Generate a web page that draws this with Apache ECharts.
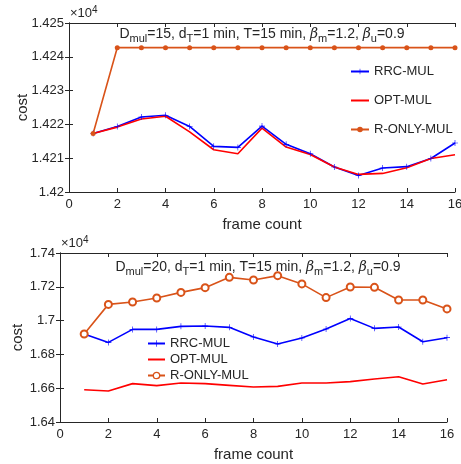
<!DOCTYPE html>
<html><head><meta charset="utf-8">
<script src="https://cdn.jsdelivr.net/npm/echarts@6/dist/echarts.min.js"></script>
<style>html,body{margin:0;padding:0;background:#fff}#c{width:461px;height:464px}</style>
</head><body><div id="c"></div>
<script>
var frames = [1,2,3,4,5,6,7,8,9,10,11,12,13,14,15,16];
var topRRC  = [14217.3,14219.4,14222.2,14222.7,14219.4,14213.5,14213.2,14219.5,14214.1,14211.3,14207.4,14204.9,14207.1,14207.5,14209.9,14214.5];
var topOPT  = [14217.3,14219.2,14221.6,14222.4,14217.8,14212.5,14211.3,14218.9,14213.3,14211.1,14207.4,14205.2,14205.5,14207.2,14209.9,14211.0];
var topRONLY= [14217.3,14242.7,14242.7,14242.7,14242.7,14242.7,14242.7,14242.7,14242.7,14242.7,14242.7,14242.7,14242.7,14242.7,14242.7,14242.7];
var botRRC  = [16921,16871,16948,16948,16966,16968,16960,16903,16862,16897,16950,17013,16954,16962,16875,16899];
var botOPT  = [16591,16583,16627,16615,16631,16627,16617,16607,16611,16631,16631,16639,16654,16668,16625,16650];
var botRONLY= [16921,17096,17110,17134,17167,17195,17256,17240,17266,17217,17136,17199,17197,17122,17122,17069];
var topTitle = 'D{s|mul}=15, d{s|T}=1 min, T=15 min, {b|β}{s|m}=1.2, {b|β}{s|u}=0.9';
var botTitle = 'D{s|mul}=20, d{s|T}=1 min, T=15 min, {b|β}{s|m}=1.2, {b|β}{s|u}=0.9';
var names = ['RRC-MUL','OPT-MUL','R-ONLY-MUL'];

function pairs(arr){ return frames.map(function(f,i){ return [f, arr[i]]; }); }
var FONT = 'Liberation Sans, Arial, sans-serif';
var TXT = '#262626';
var AX = '#262626';
var starPath = 'path://M4.5,0L5.5,0L5.5,4.5L10,4.5L10,5.5L5.5,5.5L5.5,10L4.5,10L4.5,5.5L0,5.5L0,4.5L4.5,4.5Z';

var grids = [
  {left:69, right:6, top:23, height:169, outerBoundsMode:'none', containLabel:false},
  {left:60, right:14, top:253, height:169, outerBoundsMode:'none', containLabel:false}
];
function xAx(g, pos, show){
  return {type:'value', gridIndex:g, position:pos, min:0, max:16, interval:2,
    axisLine:{show:true, lineStyle:{color:AX, width:1}},
    axisTick:{show:true, inside:true, length:4, lineStyle:{color:AX}},
    axisLabel:{show:show, color:TXT, fontFamily:FONT, fontSize:13, margin:6},
    splitLine:{show:false},
    name: show ? 'frame count' : '', nameLocation:'middle', nameGap:25,
    nameTextStyle:{color:TXT, fontFamily:FONT, fontSize:15}};
}
function yAx(g, pos, show, min, max, itv){
  return {type:'value', gridIndex:g, position:pos, min:min, max:max, interval:itv,
    axisLine:{show:true, lineStyle:{color:AX, width:1}},
    axisTick:{show:true, inside:true, length:4, lineStyle:{color:AX}},
    axisLabel:{show:show, color:TXT, fontFamily:FONT, fontSize:13, margin:5,
      formatter:function(v){ return String(+(v/1e4).toFixed(4)); }},
    splitLine:{show:false},
    name: show ? 'cost' : '', nameLocation:'middle', nameGap: g===0 ? 39 : 35, nameRotate:90,
    nameMoveOverlap:false,
    nameTextStyle:{color:TXT, fontFamily:FONT, fontSize:15}};
}
var rich = {
  s:{fontSize:11, fontFamily:FONT, color:TXT, verticalAlign:'bottom', padding:[9,0,0,0], lineHeight:20},
  b:{fontSize:14, fontFamily:'DejaVu Serif, serif', fontStyle:'italic', color:TXT}
};
function mk(name, data, xi, yi, extra){
  var base = {name:name, type:'line', xAxisIndex:xi, yAxisIndex:yi, data:pairs(data), animation:false};
  for (var k in extra) base[k]=extra[k];
  return base;
}
var rrcStyle = {color:'#0000ff', symbol:starPath, symbolSize:6, lineStyle:{width:1.6, color:'#0000ff'}, itemStyle:{color:'#0000ff'}};
var optStyle = {color:'#ff0000', showSymbol:false, symbol:'none', lineStyle:{width:1.6, color:'#ff0000'}};
var ronTop = {color:'#D95319', symbol:'circle', symbolSize:5, lineStyle:{width:1.6, color:'#D95319'}, itemStyle:{color:'#D95319'}};
var ronBot = {color:'#D95319', symbol:'emptyCircle', symbolSize:7, lineStyle:{width:1.6, color:'#D95319'}, itemStyle:{color:'#D95319', borderWidth:1.3}};

var legendTop = [
  {name:'RRC-MUL'},
  {name:'OPT-MUL', itemStyle:{opacity:0}},
  {name:'R-ONLY-MUL'}
];
var legendBot = [
  {name:'RRC-MUL'},
  {name:'OPT-MUL', itemStyle:{opacity:0}},
  {name:'R-ONLY-MUL', itemStyle:{color:'#ffffff', borderColor:'#D95319', borderWidth:1.3}}
];

var option = {
  backgroundColor:'#fff',
  animation:false,
  grid: grids,
  xAxis:[xAx(0,'bottom',true), xAx(0,'top',false), xAx(1,'bottom',true), xAx(1,'top',false)],
  yAxis:[yAx(0,'left',true,14200,14250,10), yAx(0,'right',false,14200,14250,10),
         yAx(1,'left',true,16400,17400,200), yAx(1,'right',false,16400,17400,200)],
  title:[
    {text:topTitle, left:257, textAlign:'center', top:19, textStyle:{fontSize:14, fontWeight:'normal', fontFamily:FONT, color:TXT, rich:rich}},
    {text:botTitle, left:253, textAlign:'center', top:252, textStyle:{fontSize:14, fontWeight:'normal', fontFamily:FONT, color:TXT, rich:rich}}
  ],
  graphic:[
    {type:'text', left:70, top:5, style:{text:'×10{e|4}', fill:TXT, font:'13px '+FONT, rich:{e:{fontSize:10, verticalAlign:'top', padding:[0,0,6,0]}}}},
    {type:'text', left:61, top:235, style:{text:'×10{e|4}', fill:TXT, font:'13px '+FONT, rich:{e:{fontSize:10, verticalAlign:'top', padding:[0,0,6,0]}}}}
  ],
  legend:[
    {data:legendTop, orient:'vertical', left:345, top:60, itemWidth:18, itemHeight:7, itemGap:16,
     textStyle:{color:TXT, fontFamily:FONT, fontSize:13}},
    {data:legendBot, orient:'vertical', left:142, top:332, itemWidth:17, itemHeight:8, itemGap:3,
     textStyle:{color:TXT, fontFamily:FONT, fontSize:13}}
  ],
  series:[
    mk('RRC-MUL', topRRC, 0, 0, rrcStyle),
    mk('OPT-MUL', topOPT, 0, 0, optStyle),
    mk('R-ONLY-MUL', topRONLY, 0, 0, ronTop),
    mk('RRC-MUL', botRRC, 2, 2, rrcStyle),
    mk('OPT-MUL', botOPT, 2, 2, optStyle),
    mk('R-ONLY-MUL', botRONLY, 2, 2, ronBot)
  ]
};
var chart = echarts.init(document.getElementById('c'), null, {renderer:'canvas'});
chart.setOption(option);
</script></body></html>
